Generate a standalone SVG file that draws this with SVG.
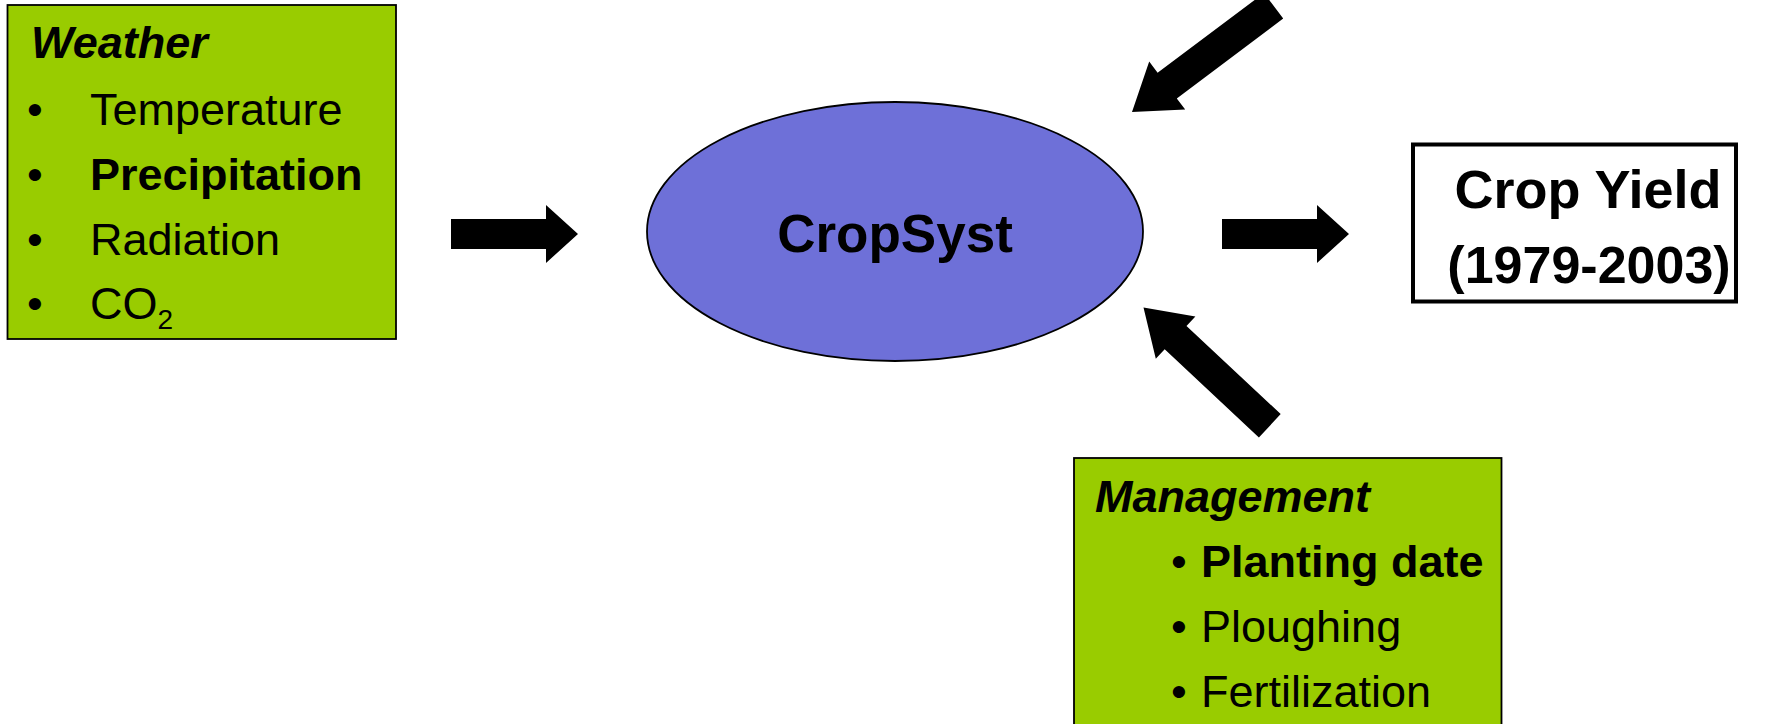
<svg xmlns="http://www.w3.org/2000/svg" width="1773" height="724" viewBox="0 0 1773 724">
<style>
  .box { fill: #99cc00; stroke: #000; stroke-width: 1.8; }
  .t { font-family: "Liberation Sans", Arial, sans-serif; fill: #000; }
  .list { font-size: 45px; }
  .b { font-weight: bold; }
  .bi { font-weight: bold; font-style: italic; }
  .arrow { fill: #000; stroke: none; }
</style>
<rect x="0" y="0" width="1773" height="724" fill="#ffffff"/>

<g id="weather">
  <rect class="box" x="7.5" y="5" width="388.5" height="334"/>
  <text class="t list bi" x="31" y="58">Weather</text>
  <text class="t list" x="27" y="125">•</text>
  <text class="t list" x="90" y="125">Temperature</text>
  <text class="t list" x="27" y="190">•</text>
  <text class="t list b" x="90" y="190">Precipitation</text>
  <text class="t list" x="27" y="255">•</text>
  <text class="t list" x="90" y="255">Radiation</text>
  <text class="t list" x="27" y="319">•</text>
  <text class="t list" x="90" y="319">CO<tspan font-size="28" dy="10">2</tspan></text>
</g>

<g id="cropsyst">
  <ellipse cx="895" cy="231.5" rx="248" ry="129.5" fill="#6e70d8" stroke="#000" stroke-width="1.8"/>
  <text class="t b" x="895" y="252" font-size="53" text-anchor="middle">CropSyst</text>
</g>

<g id="cropyield">
  <rect x="1413" y="144.5" width="323" height="157" fill="#ffffff" stroke="#000" stroke-width="4"/>
  <text class="t b" x="1588" y="208" font-size="54" text-anchor="middle">Crop Yield</text>
  <text class="t b" x="1589" y="283" font-size="52" text-anchor="middle">(1979-2003)</text>
</g>

<g id="management">
  <rect class="box" x="1074" y="458" width="427.5" height="290"/>
  <text class="t list bi" x="1095" y="512">Management</text>
  <text class="t list" x="1171" y="577">•</text>
  <text class="t list b" x="1201" y="577">Planting date</text>
  <text class="t list" x="1171" y="642">•</text>
  <text class="t list" x="1201" y="642">Ploughing</text>
  <text class="t list" x="1171" y="707">•</text>
  <text class="t list" x="1201" y="707">Fertilization</text>
</g>

<g id="connectors">
  <polygon class="arrow" points="451,219 546,219 546,205 578,234 546,263 546,249 451,249"/>
  <polygon class="arrow" points="1222,219 1317,219 1317,205 1349,234 1317,263 1317,249 1222,249"/>
  <polygon class="arrow" points="1283.2,18.6 1176.8,98.4 1185.2,109.6 1132,112 1149.2,61.6 1157.6,72.8 1264,-7"/>
  <polygon class="arrow" points="1280.7,414.1 1186.5,325.9 1195.4,316.4 1143.5,307.5 1155.8,358.8 1164.7,349.3 1258.9,437.5"/>
</g>
</svg>
